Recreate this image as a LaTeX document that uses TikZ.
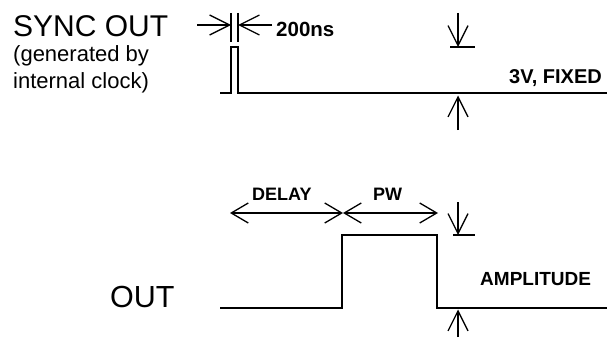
\documentclass[tikz,border=0pt]{standalone}
\usepackage{fontspec}
\setmainfont{Liberation Sans}
\usetikzlibrary{arrows.meta}

\begin{document}
\begin{tikzpicture}[x=1pt,y=-1pt]
      \tikzset{
        lbl/.style={inner sep=0pt,anchor=base west},
        wave/.style={line width=2.8pt,line join=miter},
        bar/.style={line width=1.3pt},
        dim/.style={line width=1.3pt,-{Straight Barb[length=20pt,width=20pt]}},
        span/.style={line width=1.3pt,{Straight Barb[length=17pt,width=20pt]}-{Straight Barb[length=17pt,width=20pt]}}
      }
      \useasboundingbox (0,0) rectangle (607,337);

      % labels
      \node[lbl,font=\fontsize{30}{30}\selectfont] (sync) at (13,37) {SYNC OUT};
      \node[lbl,font=\fontsize{22}{26}\selectfont] (gen) at (13,62) {(generated by};
      \node[lbl,font=\fontsize{22}{26}\selectfont] (clock) at (13,88) {internal clock)};
      \node[lbl,font=\bfseries\fontsize{20.5}{20.5}\selectfont] (width) at (276,37) {200ns};
      \node[lbl,anchor=base east,font=\bfseries\fontsize{20}{20}\selectfont] (fixed) at (602,83) {3V, FIXED};
      \node[lbl,font=\bfseries\fontsize{18}{18}\selectfont] (delay) at (252,200) {DELAY};
      \node[lbl,font=\bfseries\fontsize{18}{18}\selectfont] (pw) at (373,200) {PW};
      \node[lbl,font=\bfseries\fontsize{19}{19}\selectfont] (ampl) at (480,285) {AMPLITUDE};
      \node[lbl,font=\fontsize{30.5}{30.5}\selectfont] (out) at (110,307) {OUT};

      % sync pulse
      \coordinate (s1) at (231,93);
      \coordinate (s2) at (238,93);
      \draw[wave] (220,93) -- (s1) -- (231,47) -- (238,47) -- (s2) -- (607,93);
      \draw[bar] (231,13) -- (231,42)
                 (238,13) -- (238,42);
      \draw[dim] (197,25) -- (231,25);
      \draw[dim] (272,25) -- (238,25);
      \draw[dim] (458,13) -- (458,47);
      \draw[bar] (450,47) -- (475,47);
      \draw[dim] (458,130) -- (458,95.5);

      % output pulse
      \coordinate (p1) at (342,235);
      \coordinate (p2) at (437,235);
      \draw[wave] (220,308) -- (342,308) -- (p1) -- (p2) -- (437,308) -- (607,308);
      \draw[span] (230,213) -- (343,213);
      \draw[span] (343,213) -- (438,213);
      \draw[dim] (458,202) -- (458,235);
      \draw[bar] (453,235) -- (475,235);
      \draw[dim] (458,337) -- (458,309.5);
    \end{tikzpicture}
\end{document}
